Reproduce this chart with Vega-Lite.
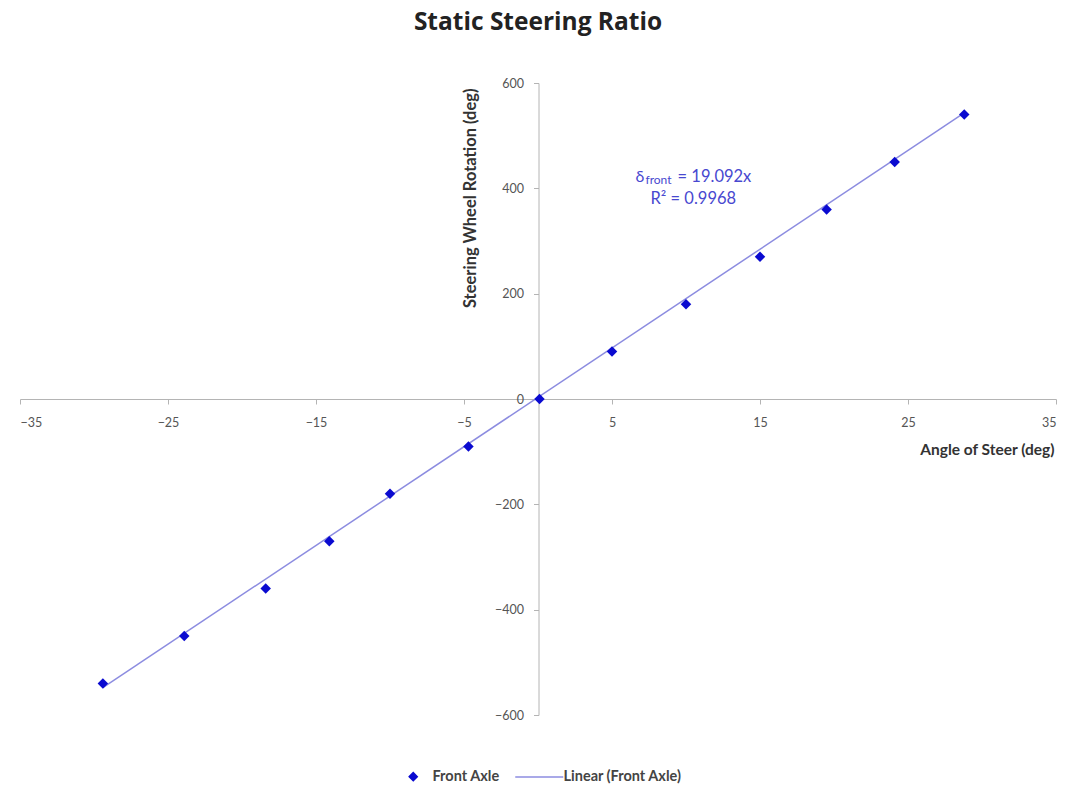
{
  "$schema": "https://vega.github.io/schema/vega-lite/v6.json",
  "autosize": "none",
  "width": 1036,
  "height": 632,
  "padding": {"left": 20, "top": 83, "right": 18, "bottom": 75},
  "background": "white",
  "title": {"text": "Static Steering Ratio", "font": "Open Sans", "fontSize": 24.5, "fontWeight": "bold", "color": "#222222", "anchor": "middle", "frame": "group", "offset": 42},
  "config": {"view": {"stroke": null}, "font": "Lato"},
  "datasets": {
    "points": [
      {"angle": -29.4, "rotation": -540, "series": "Front Axle"},
      {"angle": -23.9, "rotation": -450, "series": "Front Axle"},
      {"angle": -18.4, "rotation": -360, "series": "Front Axle"},
      {"angle": -14.1, "rotation": -270, "series": "Front Axle"},
      {"angle": -10.0, "rotation": -180, "series": "Front Axle"},
      {"angle": -4.7, "rotation": -90, "series": "Front Axle"},
      {"angle": 0.1, "rotation": 0, "series": "Front Axle"},
      {"angle": 5.0, "rotation": 90, "series": "Front Axle"},
      {"angle": 10.0, "rotation": 180, "series": "Front Axle"},
      {"angle": 15.0, "rotation": 270, "series": "Front Axle"},
      {"angle": 19.5, "rotation": 360, "series": "Front Axle"},
      {"angle": 24.1, "rotation": 450, "series": "Front Axle"},
      {"angle": 28.8, "rotation": 540, "series": "Front Axle"}
    ],
    "trend": [
      {"angle": -29.4, "rotation": -548, "series": "Linear (Front Axle)"},
      {"angle": 28.9, "rotation": 545, "series": "Linear (Front Axle)"}
    ]
  },
  "layer": [
    {
      "data": {"name": "trend"},
      "mark": {"type": "line", "strokeWidth": 1.5},
      "encoding": {
        "x": {"field": "angle", "type": "quantitative", "scale": {"domain": [-35, 35], "nice": false, "zero": false},
          "axis": {"orient": "bottom", "offset": -316, "values": [-35, -25, -15, -5, 5, 15, 25, 35], "grid": false,
            "domainColor": "#b4b4b4", "tickColor": "#b4b4b4", "tickSize": 5, "labelColor": "#555555", "labelFontSize": 12.5, "labelPadding": 12,
            "title": "Angle of Steer (deg)", "titleFontSize": 15.5, "titleFontWeight": "bold", "titleColor": "#333333",
            "titleAlign": "right", "titleX": 1034, "titleY": 50, "titleBaseline": "middle", "titleAngle": 0}},
        "y": {"field": "rotation", "type": "quantitative", "scale": {"domain": [-600, 600], "nice": false, "zero": false},
          "axis": {"orient": "left", "offset": -518.5, "values": [-600, -400, -200, 0, 200, 400, 600], "grid": false,
            "domainColor": "#b4b4b4", "tickColor": "#b4b4b4", "tickSize": 5, "labelColor": "#555555", "labelFontSize": 12.5, "labelPadding": 10,
            "title": "Steering Wheel Rotation (deg)", "titleFontSize": 16.5, "titleFontWeight": "bold", "titleColor": "#333333",
            "titleAngle": -90, "titleAlign": "right", "titleBaseline": "middle", "titleX": -68, "titleY": 5}},
        "color": {"field": "series", "type": "nominal",
          "scale": {"domain": ["Front Axle", "Linear (Front Axle)"], "range": ["#0a0ad0", "#8c8ce0"]}}
      }
    },
    {
      "data": {"name": "points"},
      "mark": {"type": "point", "filled": true, "size": 110, "opacity": 1},
      "encoding": {
        "x": {"field": "angle", "type": "quantitative"},
        "y": {"field": "rotation", "type": "quantitative"},
        "color": {"field": "series", "type": "nominal",
          "scale": {"domain": ["Front Axle", "Linear (Front Axle)"], "range": ["#0a0ad0", "#8c8ce0"]},
          "legend": {"title": null, "orient": "none", "direction": "horizontal", "legendX": 386, "legendY": 686,
            "labelFont": "Lato", "labelFontSize": 14.5, "labelFontWeight": "bold", "labelColor": "#444444", "columnPadding": 12, "symbolSize": 64, "labelOffset": 12,
            "encode": {"symbols": {"update": {"stroke": {"scale": "color", "field": "value"}, "strokeWidth": {"value": 1.5}}}}}},
        "shape": {"field": "series", "type": "nominal",
          "scale": {"domain": ["Front Axle", "Linear (Front Axle)"], "range": ["diamond", "M-7.25,0L4.75,0"]}}
      }
    },
    {
      "data": {"values": [{"angle": 6.59, "rotation": 421, "label": "δ"}]},
      "mark": {"type": "text", "align": "left", "baseline": "middle", "fontSize": 16, "color": "#4848d0", "font": "Lato"},
      "encoding": {"x": {"field": "angle", "type": "quantitative"}, "y": {"field": "rotation", "type": "quantitative"}, "text": {"field": "label"}}
    },
    {
      "data": {"values": [{"angle": 7.26, "rotation": 415, "label": "front"}]},
      "mark": {"type": "text", "align": "left", "baseline": "middle", "fontSize": 12, "color": "#4848d0", "font": "Lato"},
      "encoding": {"x": {"field": "angle", "type": "quantitative"}, "y": {"field": "rotation", "type": "quantitative"}, "text": {"field": "label"}}
    },
    {
      "data": {"values": [{"angle": 9.43, "rotation": 421, "label": "= 19.092x"}, {"angle": 7.6, "rotation": 380, "label": "R² = 0.9968"}]},
      "mark": {"type": "text", "align": "left", "baseline": "middle", "fontSize": 16.5, "color": "#4848d0", "font": "Lato"},
      "encoding": {"x": {"field": "angle", "type": "quantitative"}, "y": {"field": "rotation", "type": "quantitative"}, "text": {"field": "label"}}
    }
  ]
}
